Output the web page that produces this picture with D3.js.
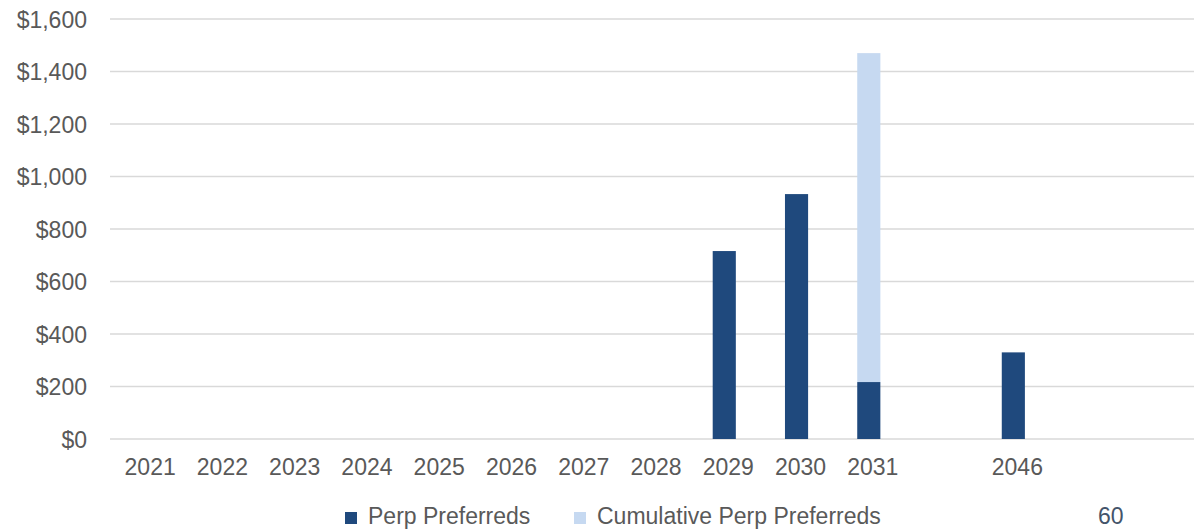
<!DOCTYPE html>
<html>
<head>
<meta charset="utf-8">
<script src="https://cdn.jsdelivr.net/npm/d3@7"></script>
<style>
  html, body { margin: 0; padding: 0; background: #ffffff; }
  svg { display: block; }
</style>
</head>
<body>
<div id="chart"></div>
<script>
// Maturity years (blank slots keep the gap before and after 2046)
const categories = ["2021", "2022", "2023", "2024", "2025", "2026", "2027", "2028",
                    "2029", "2030", "2031", "", "2046", "", ""];
// Perp preferreds maturing each year ($ millions)
const perpPreferreds = [0, 0, 0, 0, 0, 0, 0, 0, 716, 933, 217, 0, 330, 0, 0];
// Cumulative amount stacked on top of the 2031 bar
const cumulativePerpPreferreds = [0, 0, 0, 0, 0, 0, 0, 0, 0, 0, 1253, 0, 0, 0, 0];
const yTicks = [0, 200, 400, 600, 800, 1000, 1200, 1400, 1600];
const seriesNames = ["Perp Preferreds", "Cumulative Perp Preferreds"];
const seriesColors = ["#1F497D", "#C6D9F1"];
const pageNumber = "60";

const W = 1196, H = 529;
const plot = { left: 110, right: 1194, top: 19, bottom: 439 };

const svg = d3.select("#chart").append("svg")
  .attr("width", W).attr("height", H)
  .style("font-family", "'Liberation Sans', Arial, sans-serif");

const idx = categories.map((_, i) => i);
const x = d3.scaleBand().domain(idx)
  .range([plot.left, plot.right])
  .paddingInner(0.68).paddingOuter(0.34);
const y = d3.scaleLinear().domain([0, 1600]).range([plot.bottom, plot.top]);

// Horizontal gridlines
svg.append("g").selectAll("line").data(yTicks).join("line")
  .attr("x1", plot.left).attr("x2", plot.right)
  .attr("y1", d => y(d)).attr("y2", d => y(d))
  .attr("stroke", "#D9D9D9").attr("stroke-width", 1.5);

// Y axis labels
const yAxis = d3.axisLeft(y).tickValues(yTicks)
  .tickFormat(d => "$" + d3.format(",")(d)).tickSize(0).tickPadding(0);
const gy = svg.append("g").attr("transform", "translate(87,0)").call(yAxis);
gy.select(".domain").remove();
gy.selectAll("text")
  .attr("fill", "#595959").style("font-size", "23px")
  .style("font-family", "'Liberation Sans', Arial, sans-serif")
  .attr("dy", "0.36em");

// X axis labels
const xAxis = d3.axisBottom(x).tickFormat(i => categories[i]).tickSize(0).tickPadding(0);
const gx = svg.append("g").attr("transform", `translate(0,${plot.bottom})`).call(xAxis);
gx.select(".domain").remove();
gx.selectAll("text")
  .attr("fill", "#595959").style("font-size", "23px")
  .style("font-family", "'Liberation Sans', Arial, sans-serif")
  .attr("x", 4).attr("y", 36).attr("dy", 0);

// Stacked bars
const rows = idx.map(i => ({ i, a: perpPreferreds[i], b: cumulativePerpPreferreds[i] }));
const stacked = d3.stack().keys(["a", "b"])(rows);
svg.append("g").selectAll("g").data(stacked).join("g")
  .attr("fill", (d, k) => seriesColors[k])
  .selectAll("rect").data(d => d.filter(s => s[1] - s[0] > 0)).join("rect")
  .attr("x", d => x(d.data.i))
  .attr("width", x.bandwidth())
  .attr("y", d => y(d[1]))
  .attr("height", d => y(d[0]) - y(d[1]));

// Legend
const legendItems = [
  { name: seriesNames[0], color: seriesColors[0], x: 345 },
  { name: seriesNames[1], color: seriesColors[1], x: 574 }
];
const lg = svg.append("g").selectAll("g").data(legendItems).join("g")
  .attr("transform", d => `translate(${d.x},0)`);
lg.append("rect").attr("x", 0).attr("y", 512).attr("width", 12).attr("height", 12)
  .attr("fill", d => d.color);
lg.append("text").attr("x", 23).attr("y", 524)
  .attr("fill", "#595959").style("font-size", "23px")
  .text(d => d.name);

// Page number
svg.append("text").attr("x", 1098).attr("y", 524)
  .attr("fill", "#44546A")
  .style("font-family", "'Liberation Sans', Arial, sans-serif")
  .style("font-size", "23px")
  .text(pageNumber);
</script>
</body>
</html>
